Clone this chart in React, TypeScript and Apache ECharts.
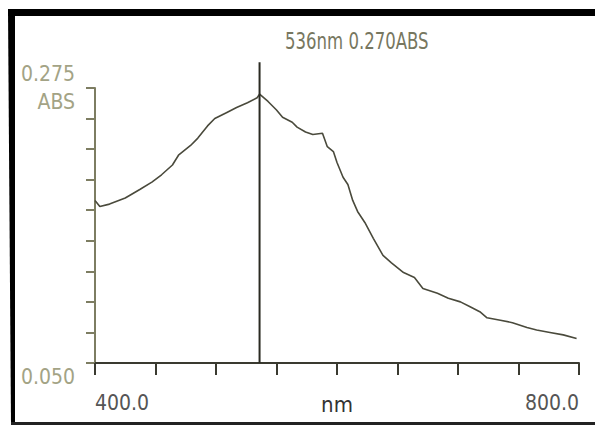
import React, { useEffect, useRef } from "react";
import * as echarts from "echarts";

const wavelengths = [400,404,412,425,437,447,455,464,469,479,485,493,499,509,517,526,534,536,543,550,555,563,567,574,580,588,592,597,600,605,609,613,617,623,630,638,645,655,664,671,683,692,702,710,718,724,735,745,757,765,776,787,798];
const absorbance = [0.183,0.178,0.180,0.185,0.192,0.198,0.204,0.212,0.220,0.228,0.234,0.244,0.250,0.255,0.259,0.263,0.267,0.270,0.264,0.257,0.251,0.247,0.243,0.239,0.237,0.238,0.227,0.223,0.214,0.202,0.196,0.183,0.174,0.165,0.152,0.138,0.132,0.124,0.120,0.111,0.107,0.103,0.100,0.096,0.092,0.087,0.085,0.083,0.079,0.077,0.075,0.073,0.070];

const cursorWavelength = 536;
const cursorAbs = 0.270;
const cursorTop = 0.296;
const yMin = 0.05;
const yMax = 0.275;
const yStep = 0.025;
const xMin = 400;
const xMax = 800;
const xStep = 50;
const yUnit = "ABS";
const xUnit = "nm";

const FONT = '"DejaVu Sans Condensed", "Liberation Sans Narrow", "DejaVu Sans", sans-serif';

export default function App() {
  const ref = useRef<HTMLDivElement>(null);
  useEffect(() => {
    if (!ref.current) return;
    const chart = echarts.init(ref.current, undefined, { renderer: "svg" });
    const lightText = "#a3a385";
    chart.setOption({
      animation: false,
      backgroundColor: "#ffffff",
      graphic: [
        { type: "rect", shape: { x: 8, y: 9, width: 587, height: 7 }, style: { fill: "#000" } },
        { type: "polygon", shape: { points: [[8, 9], [15, 9], [15, 425], [11, 425]] }, style: { fill: "#000" } },
        { type: "rect", shape: { x: 11, y: 422, width: 584, height: 3 }, style: { fill: "#222" } },
        {
          type: "text",
          x: 285,
          y: 41,
          scaleX: 0.8,
          style: {
            text: `${cursorWavelength}nm ${cursorAbs.toFixed(3)}${yUnit}`,
            fontFamily: FONT,
            fontSize: 23,
            fill: "#77775f",
            verticalAlign: "middle",
            align: "left",
          },
        },
      ],
      grid: { left: 95, right: 16, top: 88, bottom: 62, containLabel: false, outerBoundsMode: "none" },
      xAxis: {
        type: "value",
        min: xMin,
        max: xMax,
        interval: xStep,
        name: xUnit,
        nameLocation: "middle",
        nameGap: 30,
        nameMoveOverlap: false,
        nameTextStyle: { fontFamily: FONT, fontSize: 22, color: "#333", verticalAlign: "top" },
        axisLine: { show: true, lineStyle: { color: "#3a3a30", width: 2 } },
        axisTick: { show: true, inside: false, length: 12, lineStyle: { color: "#3a3a30", width: 2 } },
        splitLine: { show: false },
        axisLabel: {
          margin: 29,
          fontFamily: FONT,
          fontSize: 21,
          alignMinLabel: "left",
          alignMaxLabel: "right",
          color: (v: number) => (v === xMin ? lightText : "#555"),
          formatter: (v: number) => (v === xMin || v === xMax ? v.toFixed(1) : ""),
        },
      },
      yAxis: {
        type: "value",
        min: yMin,
        max: yMax,
        interval: yStep,
        axisLine: { show: true, lineStyle: { color: "#7d7d62", width: 2 } },
        axisTick: { show: true, inside: false, length: 9, lineStyle: { color: "#7d7d62", width: 2 } },
        splitLine: { show: false },
        axisLabel: {
          margin: 20,
          fontFamily: FONT,
          fontSize: 21,
          lineHeight: 28,
          color: lightText,
          formatter: (v: number) => {
            if (Math.abs(v - yMax) < 1e-6) return `${yMax.toFixed(3)}\n${yUnit}`;
            if (Math.abs(v - yMin) < 1e-6) return `\n${yMin.toFixed(3)}`;
            return "";
          },
        },
      },
      series: [
        {
          type: "line",
          data: wavelengths.map((w, i) => [w, absorbance[i]]),
          symbol: "none",
          lineStyle: { color: "#4a4a3c", width: 1.6 },
        },
        {
          type: "line",
          data: [[cursorWavelength, yMin], [cursorWavelength, cursorTop]],
          symbol: "none",
          clip: false,
          lineStyle: { color: "#2a2a22", width: 2 },
        },
      ],
    });
    return () => chart.dispose();
  }, []);
  return <div ref={ref} style={{ position: "absolute", left: 0, top: 0, width: 595, height: 425 }} />;
}
